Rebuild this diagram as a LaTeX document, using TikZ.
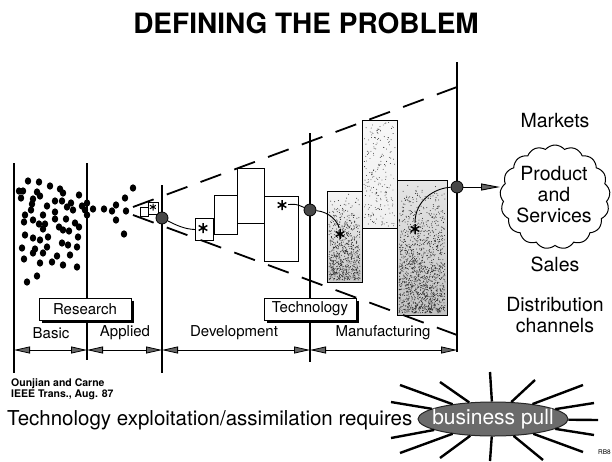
\documentclass[tikz,border=0pt]{standalone}
\usepackage{fontspec}
\setmainfont{TeX Gyre Heros}
\usetikzlibrary{arrows.meta,shapes.symbols,shapes.geometric}
\begin{document}
\begin{tikzpicture}[x=1pt,y=-1pt,
  vline/.style={line width=1.8pt},
  dimarr/.style={line width=0.8pt, {Triangle[length=16pt,width=7pt,fill=black!60]}-{Triangle[length=16pt,width=7pt,fill=black!60]}},
  bigarr/.style={line width=0.9pt, -{Triangle[length=19pt,width=7pt,fill=black!60]}},
  hub/.style={circle, draw=black, fill=black!72, line width=0.8pt, minimum size=12pt, inner sep=0pt},
  blk/.style={draw, line width=1.1pt, fill=white, inner sep=0pt, anchor=north west},
  starnode/.style={circle, inner sep=0pt, minimum size=12pt, path picture={
      \draw[line width=1.5pt, shift={(path picture bounding box.center)}] (90:5)--(270:5) (30:5)--(210:5) (150:5)--(330:5);}},
  smallstar/.style={circle, inner sep=0pt, minimum size=8pt, path picture={
      \draw[line width=1pt, shift={(path picture bounding box.center)}] (90:3.5)--(270:3.5) (30:3.5)--(210:3.5) (150:3.5)--(330:3.5);}},
  conn/.style={line width=0.9pt},
  dashl/.style={line width=1.8pt, dash pattern=on 22pt off 14pt},
  lbl/.style={font=\fontsize{15}{18}\selectfont, inner sep=0pt},
  rlbl/.style={font=\fontsize{19.5}{21}\selectfont, inner sep=0pt, align=center},
  tagbox/.style={draw, line width=1pt, fill=white, minimum width=92pt, minimum height=22pt, inner sep=0pt,
      font=\fontsize{15}{18}\selectfont},
  shadowline/.style={line width=2pt},
  ray/.style={line width=2.4pt},
  bpull/.style={ellipse, fill=black!58, draw=black!85, line width=1pt, minimum width=150pt, minimum height=34pt,
      inner sep=0pt},
  bptext/.style={inner sep=0pt, text=white, font=\fontsize{21}{24}\selectfont},
  dot/.style={fill=black},
  speck/.style={fill=black!85}
]
\useasboundingbox (0,0) rectangle (612,461);

% title
\node[font=\bfseries\fontsize{28}{32}\selectfont, inner sep=0pt] (title) at (306,23) {DEFINING THE PROBLEM};

% vertical lines
\coordinate (l1t) at (14,163);  \coordinate (l1b) at (14,373);
\coordinate (l2t) at (87,163);  \coordinate (l2b) at (87,360);
\coordinate (l3t) at (162,185); \coordinate (l3b) at (162,373);
\coordinate (l4t) at (310,133); \coordinate (l4b) at (310,362);
\coordinate (l5t) at (457,62);  \coordinate (l5b) at (457,352);
\foreach \a/\b in {l1t/l1b,l2t/l2b,l3t/l3b,l4t/l4b,l5t/l5b}
  \draw[vline] (\a) -- (\b);

% research dots
\foreach \p in {(28,181),(39,182),(50,186),(19,191),(23,191),(37,192),(40,196),(60,189),(63,193),(79,195),(133,188),
  (21,198),(33,199),(55,201),(62,201),(71,203),(32,204),(47,206),(67,207),(82,206),(87,203),(93,209),(85,210),
  (104,209),(112,211),(116,205),(125,198),(126,211),(31,210),(25,215),(55,212),(43,215),(73,210),(87,215),
  (24,222),(33,220),(39,224),(45,224),(55,219),(66,219),(75,223),(79,227),(59,227),(63,230),(69,231),(43,229),
  (25,235),(33,238),(48,237),(40,240),(78,237),(116,220),(124,234),(62,243),(68,245),(77,247),(22,248),(35,249),
  (47,247),(33,253),(43,253),(70,255),(24,259),(40,263),(52,262),(57,256),(63,265),(77,267),(37,276),(27,282)}
  \fill[dot] \p ellipse [x radius=3.2, y radius=3.7];

% small funnel boxes
\node[blk, line width=0.8pt, minimum width=8pt, minimum height=9pt] (fa) at (140,207) {};
\node[blk, line width=0.8pt, minimum width=10pt, minimum height=12pt] (fb) at (148,202) {};
\node[smallstar] (fs) at (153,207) {};

% development boxes
\node[blk, minimum width=18pt, minimum height=22pt] (bA) at (195,218) {};
\node[blk, minimum width=23pt, minimum height=39pt] (bB) at (214,195) {};
\node[blk, minimum width=27pt, minimum height=55pt] (bC) at (237,168) {};
\node[blk, minimum width=34pt, minimum height=65pt] (bD) at (264,196) {};

% manufacturing boxes (stippled)
\node[blk, minimum width=35pt, minimum height=91pt, top color=black!4, bottom color=black!22] (bE) at (327,191) {};
\node[blk, minimum width=35pt, minimum height=108pt, top color=black!3, bottom color=black!6] (bF) at (362,120) {};
\node[blk, minimum width=50pt, minimum height=135pt, top color=black!10, bottom color=black!24] (bG) at (397,180) {};
\pgfmathsetseed{7}
\foreach \i in {1,...,700}{
  \pgfmathsetmacro{\rx}{329+31*rnd}\pgfmathsetmacro{\ry}{193+87*sqrt(rnd)}
  \fill[speck] (\rx,\ry) circle (0.5);}
\foreach \i in {1,...,220}{
  \pgfmathsetmacro{\rx}{364+31*rnd}\pgfmathsetmacro{\ry}{122+104*rnd}
  \fill[speck] (\rx,\ry) circle (0.45);}
\foreach \i in {1,...,1400}{
  \pgfmathsetmacro{\rx}{399+46*rnd}\pgfmathsetmacro{\ry}{182+131*sqrt(rnd)}
  \fill[speck] (\rx,\ry) circle (0.5);}

% dashed envelope
\coordinate (u0) at (133,207); \coordinate (u1) at (457,87);
\coordinate (w0) at (133,215); \coordinate (w1) at (457,335);
\draw[dashl] (u0) -- (u1);
\draw[dashl] (w0) -- (w1);

% stars
\node[starnode] (sA) at (203,228) {};
\node[starnode] (sD) at (282,205) {};
\node[starnode] (sE) at (340,234) {};
\node[starnode] (sG) at (415,229) {};

% hubs
\node[hub] (h3) at (162,218) {};
\node[hub] (h4) at (310,210) {};
\node[hub] (h5) at (457,187) {};

% connectors
\draw[conn] (h3) .. controls (176,225) and (184,229) .. (bA.west);
\draw[conn] (sD) .. controls (296,204) .. (h4);
\draw[conn] (h4) .. controls (330,212) and (338,222) .. (sE);
\draw[conn] (sG) .. controls (415,200) and (435,188) .. (h5);
\coordinate (cw) at (500,187);
\draw[bigarr] (h5) -- (cw);

% cloud and right labels
\node[cloud, draw, line width=1pt, cloud puffs=17, cloud puff arc=100, aspect=1.05,
      minimum width=110pt, minimum height=104pt, inner sep=0pt] (cloud) at (555,197) {};
\node[rlbl] (pas) at (554,195) {Product\\and\\Services};
\node[rlbl] (markets) at (555,121) {Markets};
\node[rlbl] (sales) at (555,264) {Sales};
\node[rlbl] (distr) at (555,315) {Distribution\\channels};

% tag boxes with offset shadow
\node[tagbox] (research) at (85,309) {Research};
\draw[shadowline] ([xshift=1.8pt,yshift=-3pt]research.north east) -- ([xshift=1.8pt,yshift=-1.8pt]research.south east) -- ([xshift=3pt,yshift=-1.8pt]research.south west);
\node[tagbox] (techn) at (310,309) {Technology};
\draw[shadowline] ([xshift=1.8pt,yshift=-3pt]techn.north east) -- ([xshift=1.8pt,yshift=-1.8pt]techn.south east) -- ([xshift=3pt,yshift=-1.8pt]techn.south west);

% phase labels
\node[lbl] (basic) at (51,333) {Basic};
\node[lbl] (applied) at (125,333) {Applied};
\node[lbl] (devel) at (234,333) {Development};
\node[lbl] (manuf) at (383,333) {Manufacturing};

% dimension arrows
\coordinate (d1) at (14,350); \coordinate (d2) at (87,350); \coordinate (d3) at (162,350);
\coordinate (d4) at (310,350); \coordinate (d5) at (457,350);
\draw[dimarr] (d1) -- (d2);
\draw[dimarr] (d2) -- (d3);
\draw[dimarr] (d3) -- (d4);
\draw[dimarr] (d4) -- (d5);

% citation
\node[font=\bfseries\fontsize{10.5}{12}\selectfont, inner sep=0pt, anchor=base west] (cite1) at (11,386) {Ounjian and Carne};
\node[font=\bfseries\fontsize{10.5}{12}\selectfont, inner sep=0pt, anchor=base west] (cite2) at (11,397) {IEEE Trans., Aug. 87};

% bottom statement
\node[font=\fontsize{20.5}{24}\selectfont, inner sep=0pt, anchor=base west] (stmt) at (7,425) {Technology exploitation/assimilation requires};

\node[bpull] (bp) at (493,419) {};
\foreach \t in {(490,372),(440,382),(400,385),(391,402),(391,438),(400,453),(440,458),(490,461),
                (543,460),(583,452),(594,435),(598,420),(594,403),(583,385),(535,380)}
  \draw[ray] (bp) -- \t;
\node[bptext] (bpt) at (bp.center) {business pull};

\node[font=\fontsize{6.5}{8}\selectfont, inner sep=0pt, anchor=base west] (rb) at (598,454) {RB8};
\end{tikzpicture}
\end{document}
